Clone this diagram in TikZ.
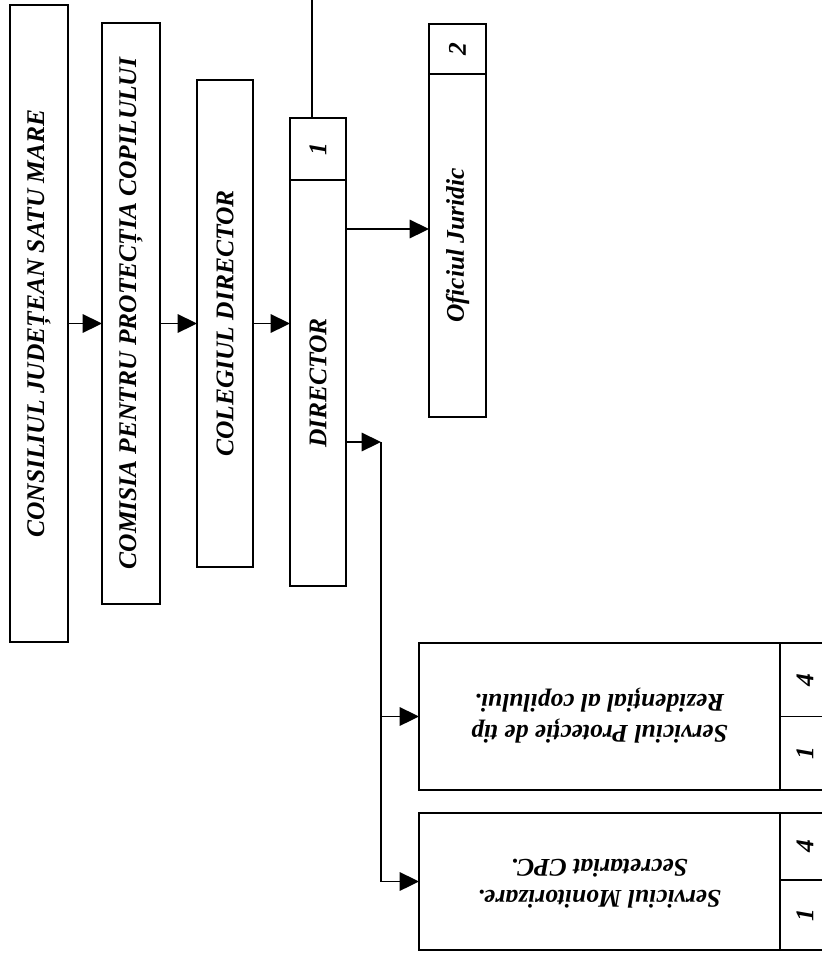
\documentclass[tikz,border=0pt]{standalone}
\usepackage{fontspec}
\setmainfont{Liberation Serif}
\usepackage{tikz}
\usetikzlibrary{positioning, arrows.meta}

\begin{document}
\begin{tikzpicture}[x=0.02cm, y=-0.02cm,
    cutie/.style={draw, line width=1pt, inner sep=0pt, outer sep=0pt, font=\fontsize{14.5}{18}\selectfont\bfseries\itshape},
    nr/.style={cutie},
    sageata/.style={line width=1pt, -{Triangle[length=11pt, width=10.5pt]}},
    linie/.style={line width=1pt}]
    \useasboundingbox (0,0) rectangle (822,954);

    % Coloanele verticale
    \node[cutie, minimum width=1.16cm, minimum height=12.74cm] (consiliul) at (39,323.5)
        {\rotatebox{90}{CONSILIUL JUDEȚEAN SATU MARE}};
    \node[cutie, minimum width=1.16cm, minimum height=11.62cm] (comisia) at (131,313.5)
        {\rotatebox{90}{COMISIA PENTRU PROTECȚIA COPILULUI}};
    \node[cutie, minimum width=1.12cm, minimum height=9.74cm] (colegiul) at (225,323.5)
        {\rotatebox{90}{COLEGIUL DIRECTOR}};

    % Director cu numar
    \node[cutie, minimum width=1.12cm, minimum height=8.12cm] (director) at (318,383)
        {\rotatebox{90}{DIRECTOR}};
    \node[nr, minimum width=1.12cm, minimum height=1.24cm, anchor=south] (dirnr) at (director.north)
        {\rotatebox{90}{1}};

    % Oficiul juridic
    \node[cutie, minimum width=1.14cm, minimum height=6.86cm] (oficiul) at (457.5,245.5)
        {\rotatebox{90}{Oficiul Juridic}};
    \node[nr, minimum width=1.14cm, minimum height=1.0cm, anchor=south] (oficiulnr) at (oficiul.north)
        {\rotatebox{90}{2}};

    % Serviciile de jos (text intors)
    \node[cutie, minimum width=7.22cm, minimum height=2.94cm] (serv1) at (599.5,716.5)
        {\rotatebox{180}{\begin{tabular}{@{}c@{}}Serviciul Protecție de tip\\Rezidențial al copilului.\end{tabular}}};
    \node[nr, minimum width=1.0cm, minimum height=1.47cm, anchor=north west] (serv1a) at (serv1.north east)
        {\rotatebox{90}{4}};
    \node[nr, minimum width=1.0cm, minimum height=1.47cm, anchor=north west] (serv1b) at (serv1a.south west)
        {\rotatebox{90}{1}};

    \node[cutie, minimum width=7.22cm, minimum height=2.74cm] (serv2) at (599.5,881.5)
        {\rotatebox{180}{\begin{tabular}{@{}c@{}}Serviciul Monitorizare.\\Secretariat CPC.\end{tabular}}};
    \node[nr, minimum width=1.0cm, minimum height=1.34cm, anchor=north west] (serv2a) at (serv2.north east)
        {\rotatebox{90}{4}};
    \node[nr, minimum width=1.0cm, minimum height=1.4cm, anchor=north west] (serv2b) at (serv2a.south west)
        {\rotatebox{90}{1}};

    % Sagetile principale
    \draw[sageata] (consiliul.east) -- (consiliul.east -| comisia.west);
    \draw[sageata] (colegiul.west -| comisia.east) -- (colegiul.west);
    \draw[sageata] (colegiul.east) -- (colegiul.east -| director.west);
    \draw[sageata] (director.east |- 0,229) -- (oficiul.west |- 0,229);

    % Linia de sus
    \coordinate (sus) at (312,-2);
    \draw[linie] (sus) -- (sus |- dirnr.north);

    % Ramificatia spre servicii
    \coordinate (nod) at (381,442);
    \draw[sageata] (director.east |- nod) -- (nod);
    \draw[linie] (nod) -- (nod |- serv2.west);
    \draw[sageata] (nod |- serv1.west) -- (serv1.west);
    \draw[sageata] (nod |- serv2.west) -- (serv2.west);
\end{tikzpicture}
\end{document}
